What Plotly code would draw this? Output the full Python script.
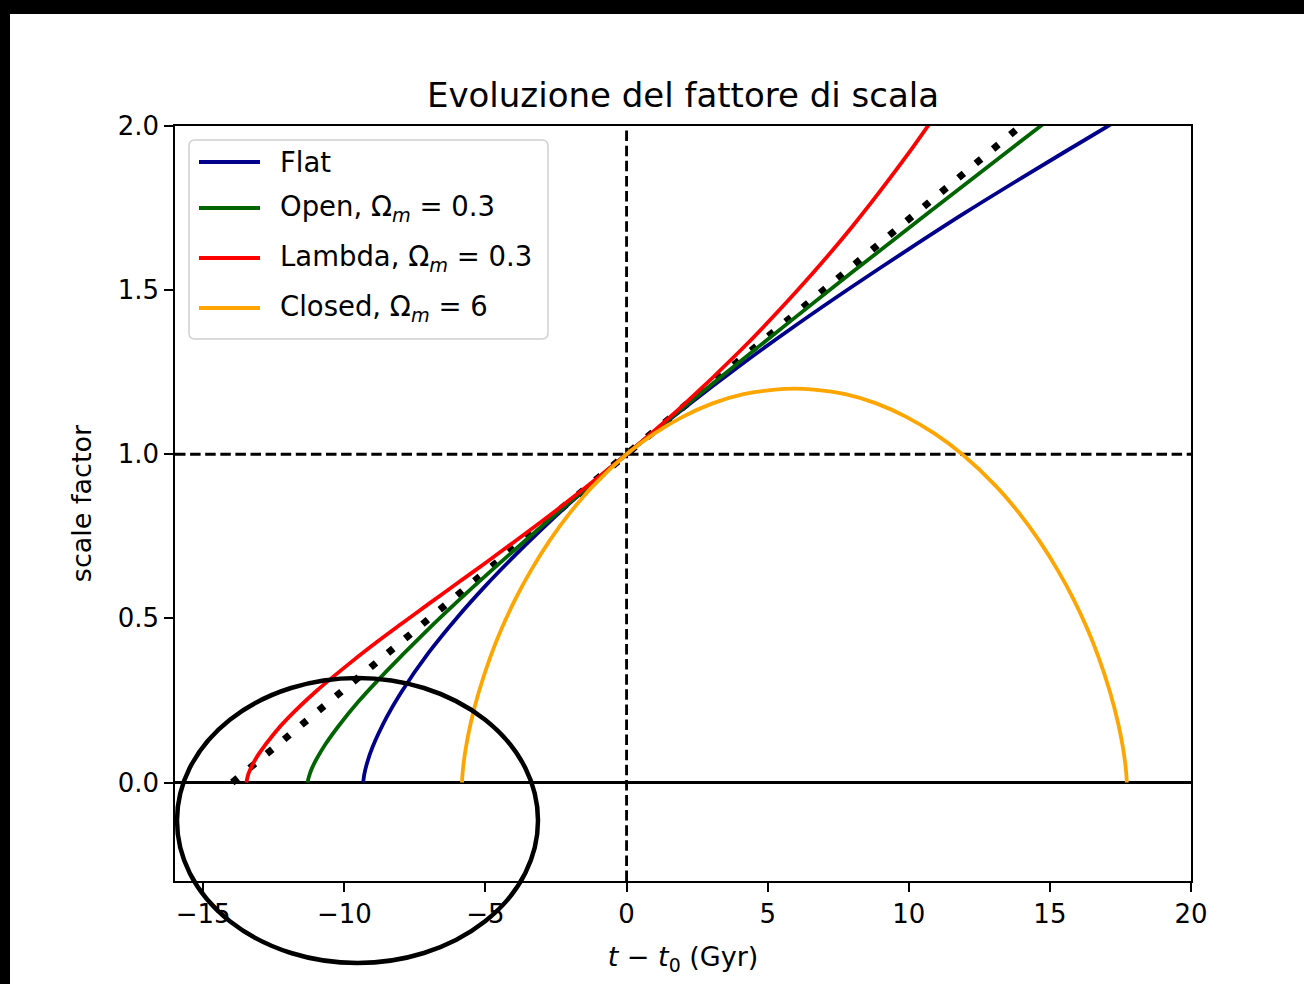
import plotly.graph_objects as go

# ---- scale factor a(t) for each model, t - t0 in Gyr ----
flat_t = [-9.33, -9.30, -9.20, -9.00, -8.50, -8.00, -7.00, -6.00, -5.00, -4.00, -3.00,
          -2.00, -1.00, 0.00, 2.00, 4.00, 6.00, 8.00, 10.00, 12.00, 14.00, 17.06, 18.00]
flat_a = [0.000, 0.022, 0.058, 0.108, 0.199, 0.273, 0.397, 0.503, 0.599, 0.688, 0.772,
          0.852, 0.927, 1.000, 1.138, 1.269, 1.393, 1.511, 1.625, 1.736, 1.842, 2.000, 2.047]

open_t = [-11.30, -11.28, -11.22, -11.13, -10.98, -10.67, -10.19, -9.50, -8.52, -7.21,
          -5.48, -3.22, 0.00, 3.35, 7.99, 13.81, 14.80]
open_a = [0.000, 0.0097, 0.0274, 0.0469, 0.0723, 0.1164, 0.1737, 0.2466, 0.3380, 0.4516,
          0.5919, 0.7646, 1.000, 1.2362, 1.5542, 1.9431, 2.0084]

lambda_t = [-13.47, -13.40, -13.20, -13.00, -12.50, -12.00, -11.00, -10.00, -9.00, -8.00,
            -7.00, -6.00, -5.00, -4.00, -3.00, -2.00, -1.00, 0.00, 2.00, 4.00, 6.00,
            8.00, 10.00, 11.00]
lambda_a = [0.000, 0.026, 0.063, 0.091, 0.148, 0.196, 0.278, 0.350, 0.418, 0.482,
            0.545, 0.607, 0.669, 0.732, 0.796, 0.862, 0.930, 1.000, 1.149, 1.313, 1.494,
            1.694, 1.918, 2.040]

closed_t = [-5.829, -5.824, -5.789, -5.696, -5.519, -5.235, -4.825, -4.426, -3.945, -3.381,
            -2.732, -2.001, -1.193, 0.000, 0.964, 1.985, 3.049, 4.145, 5.261, 5.948,
            6.634, 7.750, 8.846, 9.910, 10.931, 11.895, 13.088, 13.897, 14.627, 15.276,
            15.840, 16.321, 16.720, 17.130, 17.414, 17.591, 17.684, 17.719, 17.724]
closed_a = [0.000, 0.012, 0.047, 0.105, 0.182, 0.276, 0.383, 0.469, 0.558, 0.647,
            0.736, 0.822, 0.903, 1.000, 1.062, 1.114, 1.155, 1.183, 1.197, 1.200,
            1.197, 1.183, 1.155, 1.114, 1.062, 1.000, 0.903, 0.822, 0.736, 0.647,
            0.558, 0.469, 0.383, 0.276, 0.182, 0.105, 0.047, 0.012, 0.000]

# empty (coasting) universe, straight line
empty_t = [-13.97, 15.00]
empty_a = [0.000, 2.074]

# reference lines
span_t = [-16, 20]
span_a = [-0.3, 2.0]

x_ticks = [-15, -10, -5, 0, 5, 10, 15, 20]
x_labels = ["−15", "−10", "−5", "0", "5", "10", "15", "20"]
y_ticks = [0.0, 0.5, 1.0, 1.5, 2.0]
y_labels = ["0.0", "0.5", "1.0", "1.5", "2.0"]

series = [
    ("Flat", flat_t, flat_a, "#00008b"),
    ("Open, Ω<sub><i>m</i></sub> = 0.3", open_t, open_a, "#006400"),
    ("Lambda, Ω<sub><i>m</i></sub> = 0.3", lambda_t, lambda_a, "#ff0000"),
    ("Closed, Ω<sub><i>m</i></sub> = 6", closed_t, closed_a, "#ffa500"),
]

FONT = "DejaVu Sans"
W, H = 1304, 984
L, R, T, B = 175, 1191, 126, 881


def px(x):
    return (x - L) / (R - L)


def py(y):
    return (B - y) / (B - T)


fig = go.Figure()

# dashed guides at t = t0 and a = 1, solid a = 0 baseline
fig.add_trace(go.Scatter(x=span_t, y=[1, 1], mode="lines", showlegend=False,
                         line=dict(color="black", width=2.85, dash="10.5px,4.6px")))
fig.add_trace(go.Scatter(x=[0, 0], y=span_a, mode="lines", showlegend=False,
                         line=dict(color="black", width=2.85, dash="10.5px,4.6px")))
fig.add_trace(go.Scatter(x=span_t, y=[0, 0], mode="lines", showlegend=False,
                         line=dict(color="black", width=2.85)))

fig.add_trace(go.Scatter(x=empty_t, y=empty_a, mode="lines", showlegend=False,
                         line=dict(color="black", width=7, dash="7px,15.5px")))

for name, t, a, col in series:
    fig.add_trace(go.Scatter(x=t, y=a, mode="lines", name=name, showlegend=False,
                             line=dict(color=col, width=3.8, shape="spline", smoothing=0.8)))

shapes = []
annotations = []

# legend frame with rounded corners
bx0, bx1, by0, by1, rad = 189, 548, 140, 339, 6
path = (f"M{px(bx0 + rad)},{py(by0)} L{px(bx1 - rad)},{py(by0)} "
        f"Q{px(bx1)},{py(by0)} {px(bx1)},{py(by0 + rad)} "
        f"L{px(bx1)},{py(by1 - rad)} Q{px(bx1)},{py(by1)} {px(bx1 - rad)},{py(by1)} "
        f"L{px(bx0 + rad)},{py(by1)} Q{px(bx0)},{py(by1)} {px(bx0)},{py(by1 - rad)} "
        f"L{px(bx0)},{py(by0 + rad)} Q{px(bx0)},{py(by0)} {px(bx0 + rad)},{py(by0)} Z")
shapes.append(dict(type="path", xref="paper", yref="paper", path=path,
                   fillcolor="rgba(255,255,255,0.8)", line=dict(color="#d0d0d0", width=1.5)))

legend_rows = [162, 208, 258, 308]
for (name, _, _, col), ry in zip(series, legend_rows):
    shapes.append(dict(type="line", xref="paper", yref="paper",
                       x0=px(199), x1=px(260), y0=py(ry), y1=py(ry),
                       line=dict(color=col, width=3.8)))
    annotations.append(dict(xref="paper", yref="paper", x=px(278), y=py(ry),
                            xanchor="left", yanchor="middle", showarrow=False,
                            text=name, font=dict(family=FONT, size=27.5, color="black")))

# hand-drawn highlight around the origin of the curves
shapes.append(dict(type="circle", xref="paper", yref="paper",
                   x0=px(177), x1=px(538), y0=py(963), y1=py(678),
                   line=dict(color="black", width=4.5)))

# dark frame strips along top and left edges
shapes.append(dict(type="rect", xref="paper", yref="paper",
                   x0=-0.5, x1=1.5, y0=py(14), y1=1.6,
                   fillcolor="black", line=dict(width=0)))
shapes.append(dict(type="rect", xref="paper", yref="paper",
                   x0=-0.5, x1=px(10), y0=-0.5, y1=1.6,
                   fillcolor="black", line=dict(width=0)))

axis_common = dict(showline=True, mirror=True, linecolor="black", linewidth=1.6,
                   ticks="outside", ticklen=9, tickwidth=1.6, tickcolor="black",
                   showgrid=False, zeroline=False,
                   tickfont=dict(family=FONT, size=26, color="black"))

fig.update_layout(
    width=W, height=H,
    margin=dict(l=L, r=W - R, t=T, b=H - B),
    paper_bgcolor="white", plot_bgcolor="white",
    font=dict(family=FONT, color="black"),
    title=dict(text="Evoluzione del fattore di scala", x=0.5, xref="paper", xanchor="center",
               y=1 - 95 / H, yref="container", yanchor="middle",
               font=dict(family=FONT, size=34, color="black")),
    xaxis=dict(range=[-16, 20], tickvals=x_ticks, ticktext=x_labels,
               title=dict(text="<i>t</i> − <i>t</i><sub>0</sub> (Gyr)", standoff=19,
                          font=dict(family=FONT, size=27, color="black")),
               **axis_common),
    yaxis=dict(range=[-0.3, 2.0], tickvals=y_ticks, ticktext=y_labels,
               title=dict(text="scale factor", standoff=18,
                          font=dict(family=FONT, size=27, color="black")),
               **axis_common),
    shapes=shapes,
    annotations=annotations,
    showlegend=False,
)

fig.write_html("out.html")
